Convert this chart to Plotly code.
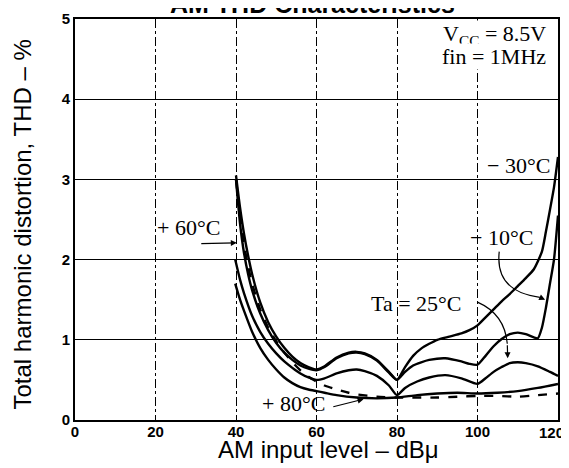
import plotly.graph_objects as go

# AM input level (dBu) and THD (%)
x_m30 = [40, 41, 42, 43, 44, 46, 48, 50, 52, 54, 56, 58, 60, 62, 65, 68, 70, 72, 75, 78, 80,
         82, 84, 86, 88, 90, 93, 96, 98, 100, 102, 104, 106, 108, 110, 112, 114, 116, 117, 118, 119, 120]
thd_m30 = [3.05, 2.65, 2.32, 2.05, 1.82, 1.47, 1.22, 1.04, 0.90, 0.79, 0.71, 0.66, 0.63, 0.67, 0.78, 0.84, 0.85, 0.83, 0.75, 0.60, 0.50,
           0.66, 0.80, 0.89, 0.95, 1.00, 1.04, 1.08, 1.12, 1.18, 1.28, 1.38, 1.48, 1.57, 1.67, 1.77, 1.88, 2.10, 2.35, 2.62, 2.90, 3.28]

x_m10 = [40, 41, 42, 43, 44, 46, 48, 50, 52, 54, 56, 58, 60, 62, 65, 68, 70, 72, 75, 78, 80,
         82, 84, 86, 88, 92, 96, 98, 100, 102, 104, 106, 108, 110, 112, 114, 115, 116, 117, 118, 119, 120]
thd_m10 = [3.00, 2.45, 2.08, 1.82, 1.62, 1.33, 1.12, 0.96, 0.84, 0.75, 0.68, 0.64, 0.62, 0.66, 0.77, 0.83, 0.84, 0.82, 0.74, 0.59, 0.50,
           0.60, 0.68, 0.72, 0.75, 0.77, 0.73, 0.70, 0.69, 0.80, 0.92, 1.01, 1.07, 1.09, 1.07, 1.03, 1.02, 1.15, 1.40, 1.70, 2.00, 2.55]

x_p25 = [39.8, 41, 42, 44, 46, 48, 50, 52, 54, 56, 58, 60, 62, 65, 68, 70, 72, 75, 78, 80,
         82, 85, 88, 92, 96, 100, 102, 104, 106, 108, 110, 112, 115, 118, 120]
thd_p25 = [2.00, 1.75, 1.58, 1.30, 1.10, 0.95, 0.83, 0.73, 0.65, 0.58, 0.53, 0.50, 0.52, 0.58, 0.62, 0.63, 0.61, 0.55, 0.43, 0.31,
           0.40, 0.48, 0.53, 0.56, 0.52, 0.45, 0.52, 0.60, 0.66, 0.71, 0.72, 0.71, 0.67, 0.60, 0.55]

x_p60 = [40, 41, 42, 43, 44, 46, 48, 50, 52, 54, 56, 58, 60, 62, 65, 68, 70, 75, 80,
         85, 90, 95, 100, 105, 110, 115, 120]
thd_p60 = [3.00, 2.55, 2.18, 1.92, 1.70, 1.38, 1.15, 0.98, 0.84, 0.72, 0.62, 0.54, 0.48, 0.43, 0.38, 0.34, 0.32, 0.29, 0.28,
           0.28, 0.28, 0.29, 0.30, 0.30, 0.29, 0.31, 0.33]

x_p80 = [39.8, 41, 42, 44, 46, 48, 50, 52, 54, 56, 58, 60, 62, 65, 70, 75, 80,
         85, 90, 95, 100, 105, 110, 115, 120]
thd_p80 = [1.70, 1.50, 1.36, 1.10, 0.90, 0.75, 0.63, 0.53, 0.46, 0.41, 0.38, 0.36, 0.34, 0.31, 0.28, 0.27, 0.28,
           0.31, 0.33, 0.34, 0.33, 0.34, 0.36, 0.40, 0.45]

x_ticks = [0, 20, 40, 60, 80, 100, 120]
x_ticktext = ["0", "20", "40", "60", "80", "100", ""]   # last one drawn separately so it isn't clipped
y_ticks = [0, 1, 2, 3, 4, 5]

sans = "Liberation Sans, Arial, sans-serif"
serif = "Liberation Serif, Times New Roman, serif"

fig = go.Figure()

curves = [
    (x_m30, thd_m30, "solid"),
    (x_m10, thd_m10, "solid"),
    (x_p25, thd_p25, "solid"),
    (x_p60, thd_p60, "dash"),
    (x_p80, thd_p80, "solid"),
]
for xs, ys, dash in curves:
    fig.add_trace(go.Scatter(x=xs, y=ys, mode="lines",
                             line=dict(color="black", width=2.4, dash=dash, shape="spline", smoothing=0.6),
                             showlegend=False, hoverinfo="skip"))

# page body has an 8px default margin, so the figure is 8px smaller than the window
fig.update_layout(
    width=561, height=460,
    margin=dict(l=67, r=11, t=11, b=48),
    paper_bgcolor="white", plot_bgcolor="white",
    showlegend=False,
)

tickfont = dict(family=sans, size=15, color="black", weight="bold")
fig.update_xaxes(range=[0, 120], tickvals=x_ticks, ticktext=x_ticktext, showgrid=True, gridcolor="black",
                 gridwidth=1, griddash="dashdot", showline=True, linecolor="black", linewidth=2, mirror=True,
                 ticks="", zeroline=False, ticklabelstandoff=-3, automargin=False, tickfont=tickfont)
fig.update_yaxes(range=[0, 5], tickvals=y_ticks, showgrid=True, gridcolor="black", gridwidth=1.2,
                 showline=True, linecolor="black", linewidth=2, mirror=True,
                 ticks="", zeroline=False, ticklabelstandoff=0, automargin=False, tickfont=tickfont)

fig.add_annotation(text="<b>120</b>", xref="x", yref="paper", x=120, y=0, xanchor="right",
                   yanchor="top", xshift=8, yshift=-2, showarrow=False, font=tickfont)

# title sits half out of the top edge, like the scan
fig.add_annotation(text="<b>AM THD Characteristics</b>", xref="x", yref="paper", x=59.1, y=1,
                   yanchor="middle", yshift=15, showarrow=False,
                   font=dict(family=sans, size=25, color="black"))

# axis titles
fig.add_annotation(text="AM input level – dBμ", xref="x", yref="paper", x=62.9, y=0,
                   yanchor="top", yshift=-14, showarrow=False,
                   font=dict(family=sans, size=24, color="black"))
fig.add_annotation(text="Total harmonic distortion, THD – %", xref="paper", yref="paper",
                   x=0, y=0.5, xanchor="center", xshift=-53, yshift=-5, textangle=-90, showarrow=False,
                   font=dict(family=sans, size=24, color="black"))

# condition and curve labels
labels = [
    ("V<sub>CC</sub> = 8.5V", 117.2, 4.80),
    ("fin = 1MHz", 117.2, 4.53),
]
for txt, x, y in labels:
    fig.add_annotation(text=txt, x=x, y=y, xanchor="right", showarrow=False, bgcolor="white",
                       borderpad=0, font=dict(family=serif, size=22, color="black"))

temps = [
    ("− 30°C", 110.2, 3.17),
    ("− 10°C", 106.0, 2.28),
    ("Ta = 25°C", 84.9, 1.45),
    ("+ 60°C", 28.1, 2.40),
    ("+ 80°C", 54.2, 0.20),
]
for txt, x, y in temps:
    fig.add_annotation(text=txt, x=x, y=y, showarrow=False,
                       font=dict(family=serif, size=22, color="black"))

# curved leader lines
fig.add_shape(type="path", xref="x", yref="y", path="M105.4,2.10 Q104.3,1.6 115.5,1.53",
              line=dict(color="black", width=1.2))
fig.add_shape(type="path", xref="x", yref="y", path="M100,1.47 Q106.8,1.32 107.4,0.95",
              line=dict(color="black", width=1.2))

arrows = [
    (40.2, 2.21, 31.0, 2.20),
    (71.7, 0.26, 63.8, 0.16),
    (107.5, 0.77, 107.4, 0.95),
    (116.8, 1.50, 115.5, 1.53),
]
for x, y, ax, ay in arrows:
    fig.add_annotation(x=x, y=y, ax=ax, ay=ay, xref="x", yref="y", axref="x", ayref="y",
                       text="", showarrow=True, arrowhead=2, arrowsize=1, arrowwidth=1.2,
                       arrowcolor="black")

fig.write_html("out.html")
